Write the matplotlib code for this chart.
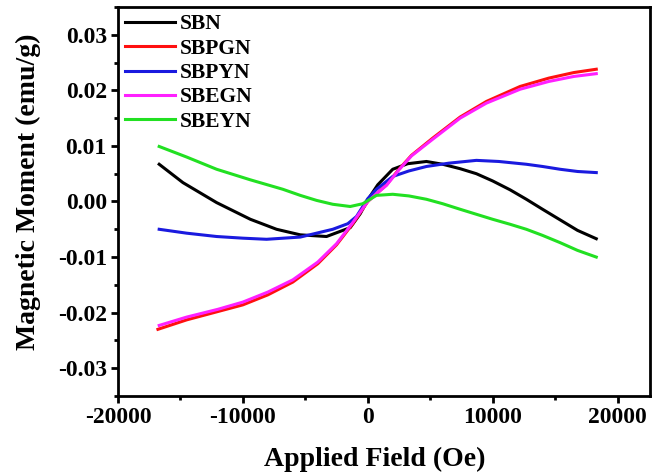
import matplotlib
matplotlib.use("Agg")
import matplotlib.pyplot as plt
from matplotlib.ticker import MultipleLocator, AutoMinorLocator

plt.rcParams["font.family"] = ["Liberation Serif", "DejaVu Serif"]
plt.rcParams["font.weight"] = "bold"
plt.rcParams["axes.unicode_minus"] = False

# field values (Oe) and moments (emu/g)
sbn_h = [-16700, -14800, -12100, -9400, -7300, -5400, -3300, -1400, -600, 0,
         800, 2000, 3200, 4700, 6000, 7400, 8700, 10000, 11400, 12700, 14000, 15400, 16800, 18300]
sbn_m = [0.0067, 0.0034, -0.0002, -0.0032, -0.0050, -0.0060, -0.0063, -0.0047, -0.0022, 0.0003,
         0.0030, 0.0058, 0.0068, 0.0072, 0.0067, 0.0059, 0.0050, 0.0037, 0.0021, 0.0004, -0.0014, -0.0033, -0.0052, -0.0067]

sbpgn_h = [-16800, -14500, -12000, -10000, -8000, -6000, -4000, -2500, -1200, 0,
           800, 1500, 2500, 3500, 5200, 7400, 9500, 12200, 14500, 16500, 18300]
sbpgn_m = [-0.0230, -0.0213, -0.0198, -0.0186, -0.0168, -0.0145, -0.0112, -0.0078, -0.0040, 0.0000,
           0.0016, 0.0030, 0.0058, 0.0083, 0.0114, 0.0152, 0.0180, 0.0207, 0.0222, 0.0232, 0.0238]

sbpyn_h = [-16700, -14500, -12100, -10000, -8100, -5400, -2800, -1600, -900, 0,
           700, 2000, 3300, 4700, 6500, 8700, 10500, 12700, 14000, 15400, 16800, 18300]
sbpyn_m = [-0.0050, -0.0057, -0.0063, -0.0066, -0.0068, -0.0064, -0.0050, -0.0040, -0.0027, 0.0005,
           0.0022, 0.0045, 0.0055, 0.0063, 0.0069, 0.0074, 0.0072, 0.0067, 0.0063, 0.0058, 0.0054, 0.0052]

sbegn_h = [-16700, -14500, -12000, -10000, -8000, -6000, -4000, -2500, -1200, 0,
           800, 1500, 2500, 3500, 5200, 7400, 9500, 12200, 14500, 16500, 18300]
sbegn_m = [-0.0223, -0.0208, -0.0194, -0.0181, -0.0163, -0.0141, -0.0109, -0.0076, -0.0038, 0.0000,
           0.0016, 0.0029, 0.0057, 0.0082, 0.0112, 0.0150, 0.0177, 0.0202, 0.0216, 0.0225, 0.0230]

sbeyn_h = [-16700, -14500, -12100, -9400, -6800, -5400, -4100, -2800, -1400, -400, 700,
           2000, 3300, 4700, 6000, 7400, 8700, 10000, 11400, 12700, 14000, 15400, 16800, 18300]
sbeyn_m = [0.0099, 0.0080, 0.0058, 0.0039, 0.0022, 0.0011, 0.0002, -0.0005, -0.0009, -0.0004, 0.0011,
           0.0013, 0.0010, 0.0004, -0.0004, -0.0014, -0.0023, -0.0032, -0.0041, -0.0050, -0.0061, -0.0074, -0.0088, -0.0100]

series = [
    ("SBN", sbn_h, sbn_m, "#000000"),
    ("SBPGN", sbpgn_h, sbpgn_m, "#ff1010"),
    ("SBPYN", sbpyn_h, sbpyn_m, "#1a1adf"),
    ("SBEGN", sbegn_h, sbegn_m, "#ff20ff"),
    ("SBEYN", sbeyn_h, sbeyn_m, "#22e022"),
]

fig = plt.figure(figsize=(6.65, 4.75), dpi=100)
ax = fig.add_axes([0.1774, 0.1663, 0.8, 0.8190])

for name, h, m, c in series:
    ax.plot(h, m, color=c, lw=2.2, label=name)

ax.set_xlim(-20000, 22600)
ax.set_ylim(-0.035, 0.035)
ax.xaxis.set_major_locator(MultipleLocator(10000))
ax.yaxis.set_major_locator(MultipleLocator(0.01))
ax.xaxis.set_minor_locator(AutoMinorLocator(2))
ax.yaxis.set_minor_locator(AutoMinorLocator(2))
ax.yaxis.set_major_formatter(plt.FuncFormatter(lambda v, p: f"{v:.2f}" if abs(v) > 1e-9 else "0.00"))

for s in ax.spines.values():
    s.set_linewidth(2)
ax.tick_params(which="major", direction="out", length=5, width=2, labelsize=17, pad=3)
ax.tick_params(which="minor", direction="out", length=3, width=2)
for lab in ax.get_xticklabels() + ax.get_yticklabels():
    lab.set_fontweight("bold")

ax.set_xlabel("Applied Field (Oe)", fontsize=20, fontweight="bold")
ax.set_ylabel("Magnetic Moment (emu/g)", fontsize=20, fontweight="bold")
ax.xaxis.set_label_coords(0.483, -0.131)
ax.yaxis.set_label_coords(-0.145, 0.524)

leg = ax.legend(loc="upper left", frameon=False, fontsize=15.5, handlelength=2.3,
                handletextpad=0.25, labelspacing=0.2, borderpad=0.34, borderaxespad=0.0,
                bbox_to_anchor=(0.0, 1.0))
for t in leg.get_texts():
    t.set_fontweight("bold")

fig.savefig("out.png", dpi=100)
